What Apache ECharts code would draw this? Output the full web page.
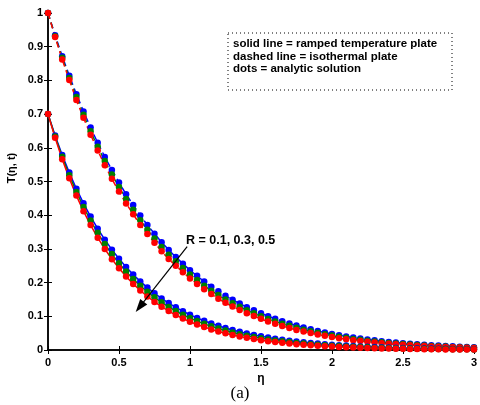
<!DOCTYPE html>
<html lang="en">
<head>
  <meta charset="UTF-8">
  <title>T(eta, t)</title>
  <script src="https://cdn.jsdelivr.net/npm/echarts@6/dist/echarts.min.js"></script>
  <style>
    html, body { margin: 0; padding: 0; background: #fff; }
  </style>
</head>
<body>
  <div id="main" style="width: 480px;height: 405px;"></div>
  <script type="text/javascript">
    // eta grid
    var eta = [0, 0.05, 0.1, 0.15, 0.2, 0.25, 0.3, 0.35, 0.4, 0.45, 0.5, 0.55, 0.6, 0.65, 0.7, 0.75, 0.8, 0.85, 0.9, 0.95,
      1, 1.05, 1.1, 1.15, 1.2, 1.25, 1.3, 1.35, 1.4, 1.45, 1.5, 1.55, 1.6, 1.65, 1.7, 1.75, 1.8, 1.85, 1.9, 1.95,
      2, 2.05, 2.1, 2.15, 2.2, 2.25, 2.3, 2.35, 2.4, 2.45, 2.5, 2.55, 2.6, 2.65, 2.7, 2.75, 2.8, 2.85, 2.9, 2.95, 3];

    // isothermal plate (dashed), R = 0.1, 0.3, 0.5
    var isoR1 = [1, 0.934, 0.872, 0.814, 0.759, 0.708, 0.660, 0.615, 0.573, 0.534, 0.497, 0.462, 0.430, 0.399, 0.371, 0.345, 0.320, 0.297, 0.276, 0.256,
      0.237, 0.220, 0.203, 0.188, 0.174, 0.161, 0.149, 0.138, 0.127, 0.118, 0.109, 0.100, 0.0925, 0.0853, 0.0786, 0.0724, 0.0667, 0.0614, 0.0565, 0.0520,
      0.0478, 0.0440, 0.0404, 0.0371, 0.0341, 0.0313, 0.0287, 0.0263, 0.0241, 0.0221, 0.0202, 0.0185, 0.0170, 0.0155, 0.0142, 0.0130, 0.0119, 0.0108, 0.0099, 0.0090, 0.0082];
    var isoR3 = [1, 0.931, 0.867, 0.807, 0.751, 0.698, 0.649, 0.603, 0.561, 0.521, 0.484, 0.448, 0.416, 0.385, 0.357, 0.331, 0.306, 0.283, 0.263, 0.243,
      0.224, 0.208, 0.191, 0.176, 0.163, 0.150, 0.139, 0.128, 0.118, 0.109, 0.100, 0.0918, 0.0847, 0.0779, 0.0716, 0.0658, 0.0604, 0.0555, 0.0509, 0.0467,
      0.0428, 0.0393, 0.0360, 0.0330, 0.0302, 0.0277, 0.0253, 0.0231, 0.0211, 0.0193, 0.0176, 0.0161, 0.0147, 0.0134, 0.0122, 0.0112, 0.0102, 0.0092, 0.0084, 0.0077, 0.0070];
    var isoR5 = [1, 0.929, 0.862, 0.801, 0.742, 0.689, 0.639, 0.592, 0.548, 0.508, 0.470, 0.435, 0.403, 0.371, 0.344, 0.318, 0.293, 0.270, 0.250, 0.231,
      0.212, 0.196, 0.180, 0.166, 0.152, 0.140, 0.129, 0.119, 0.109, 0.101, 0.0924, 0.0843, 0.0776, 0.0711, 0.0652, 0.0597, 0.0547, 0.0501, 0.0458, 0.0420,
      0.0384, 0.0351, 0.0321, 0.0293, 0.0268, 0.0244, 0.0223, 0.0203, 0.0185, 0.0169, 0.0153, 0.0140, 0.0128, 0.0116, 0.0106, 0.0096, 0.0087, 0.0079, 0.0072, 0.0065, 0.0059];

    // ramped temperature plate (solid), R = 0.1, 0.3, 0.5
    var rampR1 = [0.7, 0.6366, 0.5789, 0.5264, 0.4787, 0.4353, 0.3959, 0.3600, 0.3274, 0.2977, 0.2707, 0.2462, 0.2239, 0.2036, 0.1851, 0.1684, 0.1531, 0.1392, 0.1266, 0.1151,
      0.1047, 0.0952, 0.0866, 0.0788, 0.0716, 0.0651, 0.0592, 0.0539, 0.0490, 0.0446, 0.0405, 0.0368, 0.0335, 0.0305, 0.0277, 0.0252, 0.0229, 0.0208, 0.0190, 0.0172,
      0.0157, 0.0143, 0.0130, 0.0118, 0.0107, 0.0098, 0.0089, 0.0081, 0.0073, 0.0067, 0.0061, 0.0055, 0.0050, 0.0046, 0.0041, 0.0038, 0.0034, 0.0031, 0.0028, 0.0026, 0.0023];
    var rampR3 = [0.7, 0.6334, 0.5731, 0.5186, 0.4692, 0.4246, 0.3842, 0.3476, 0.3146, 0.2846, 0.2575, 0.2330, 0.2109, 0.1908, 0.1726, 0.1562, 0.1414, 0.1279, 0.1157, 0.1047,
      0.0947, 0.0857, 0.0776, 0.0702, 0.0635, 0.0575, 0.0520, 0.0471, 0.0426, 0.0385, 0.0349, 0.0315, 0.0285, 0.0258, 0.0234, 0.0211, 0.0191, 0.0173, 0.0157, 0.0142,
      0.0128, 0.0116, 0.0105, 0.0095, 0.0086, 0.0078, 0.0070, 0.0064, 0.0058, 0.0052, 0.0047, 0.0043, 0.0039, 0.0035, 0.0032, 0.0029, 0.0026, 0.0023, 0.0021, 0.0019, 0.0017];
    var rampR5 = [0.7, 0.6296, 0.5663, 0.5093, 0.4581, 0.4120, 0.3706, 0.3333, 0.2998, 0.2696, 0.2425, 0.2181, 0.1962, 0.1765, 0.1587, 0.1427, 0.1284, 0.1155, 0.1039, 0.0934,
      0.0840, 0.0756, 0.0680, 0.0611, 0.0550, 0.0494, 0.0445, 0.0400, 0.0360, 0.0324, 0.0291, 0.0262, 0.0235, 0.0212, 0.0190, 0.0171, 0.0154, 0.0138, 0.0124, 0.0112,
      0.0101, 0.0091, 0.0081, 0.0073, 0.0066, 0.0059, 0.0053, 0.0048, 0.0043, 0.0039, 0.0035, 0.0031, 0.0028, 0.0025, 0.0023, 0.0020, 0.0018, 0.0016, 0.0015, 0.0013, 0.0012];

    var legendLines = ['solid line = ramped temperature plate', 'dashed line = isothermal plate', 'dots = analytic solution'];
    var arrowFrom = [0.98, 0.307];
    var arrowTo = [0.646, 0.128];

    var font = 'Liberation Sans, Arial, sans-serif';

    function pairs(ys) {
      return eta.map(function (x, i) { return [x, ys[i]]; });
    }

    function curve(ys, color, dashed) {
      return {
        type: 'line',
        data: pairs(ys),
        symbol: 'circle',
        symbolSize: 6.5,
        showAllSymbol: true,
        itemStyle: { color: color },
        lineStyle: { color: color, width: 1.5, type: dashed ? [6, 4] : 'solid' },
        z: 3
      };
    }

    var myChart = echarts.init(document.getElementById('main'));

    var axisCommon = {
      axisLine: { show: true, lineStyle: { color: '#000', width: 1.5 } },
      axisTick: { show: true, inside: true, length: 4, lineStyle: { color: '#000', width: 1 } },
      splitLine: { show: false }
    };

    var series = [
      curve(isoR1, '#0000ff', true),
      curve(isoR3, '#008000', true),
      curve(isoR5, '#ff0000', true),
      curve(rampR1, '#0000ff', false),
      curve(rampR3, '#008000', false),
      curve(rampR5, '#ff0000', false)
    ];

    // annotation arrow
    series.push({
      type: 'line',
      data: [],
      markLine: {
        silent: true,
        symbol: ['none', 'triangle'],
        symbolSize: [9, 13],
        lineStyle: { color: '#000', width: 1.2, type: 'solid' },
        label: { show: false },
        data: [[{ coord: arrowFrom }, { coord: arrowTo }]]
      },
      z: 5
    });

    myChart.setOption({
      animation: false,
      backgroundColor: '#fff',
      grid: { left: 48, right: 5, top: 13, bottom: 55, containLabel: false },
      xAxis: [
        Object.assign({
          type: 'value', min: 0, max: 3, interval: 0.5, position: 'bottom',
          name: 'η', nameLocation: 'middle', nameGap: 22,
          nameTextStyle: { fontFamily: font, fontWeight: 'bold', fontSize: 12, color: '#000' },
          axisLabel: { fontFamily: font, fontWeight: 'bold', fontSize: 11, color: '#000', margin: 7 }
        }, axisCommon),
        Object.assign({
          type: 'value', min: 0, max: 3, interval: 0.5, position: 'top',
          axisLabel: { show: false }
        }, axisCommon)
      ],
      yAxis: [
        Object.assign({
          type: 'value', min: 0, max: 1, interval: 0.1, position: 'left',
          axisLabel: { fontFamily: font, fontWeight: 'bold', fontSize: 11, color: '#000', margin: 5 }
        }, axisCommon),
        Object.assign({
          type: 'value', min: 0, max: 1, interval: 0.1, position: 'right',
          axisLabel: { show: false }
        }, axisCommon)
      ],
      graphic: [
        {
          type: 'text', x: 12, y: 168, rotation: Math.PI / 2,
          style: { text: 'T(η, t)', font: 'bold 11px ' + font, fill: '#000', textAlign: 'center', textVerticalAlign: 'middle' },
          z: 11
        },
        {
          type: 'rect',
          shape: { x: 228, y: 33, width: 224, height: 57 },
          style: { fill: '#fff', stroke: '#000', lineWidth: 1, lineDash: [1, 3] },
          z: 10
        },
        {
          type: 'text', x: 233, y: 44,
          style: { text: legendLines[0], font: 'bold 11.5px ' + font, fill: '#000', textVerticalAlign: 'middle' },
          z: 11
        },
        {
          type: 'text', x: 233, y: 56.5,
          style: { text: legendLines[1], font: 'bold 11.5px ' + font, fill: '#000', textVerticalAlign: 'middle' },
          z: 11
        },
        {
          type: 'text', x: 233, y: 69,
          style: { text: legendLines[2], font: 'bold 11.5px ' + font, fill: '#000', textVerticalAlign: 'middle' },
          z: 11
        },
        {
          type: 'text', x: 186, y: 241,
          style: { text: 'R = 0.1, 0.3, 0.5', font: 'bold 12.5px ' + font, fill: '#000', textVerticalAlign: 'middle' },
          z: 11
        },
        {
          type: 'text', x: 240, y: 394,
          style: { text: '(a)', font: '17px "Liberation Serif", "Times New Roman", serif', fill: '#000', textAlign: 'center', textVerticalAlign: 'middle' },
          z: 11
        }
      ],
      series: series
    });
  </script>
</body>
</html>
